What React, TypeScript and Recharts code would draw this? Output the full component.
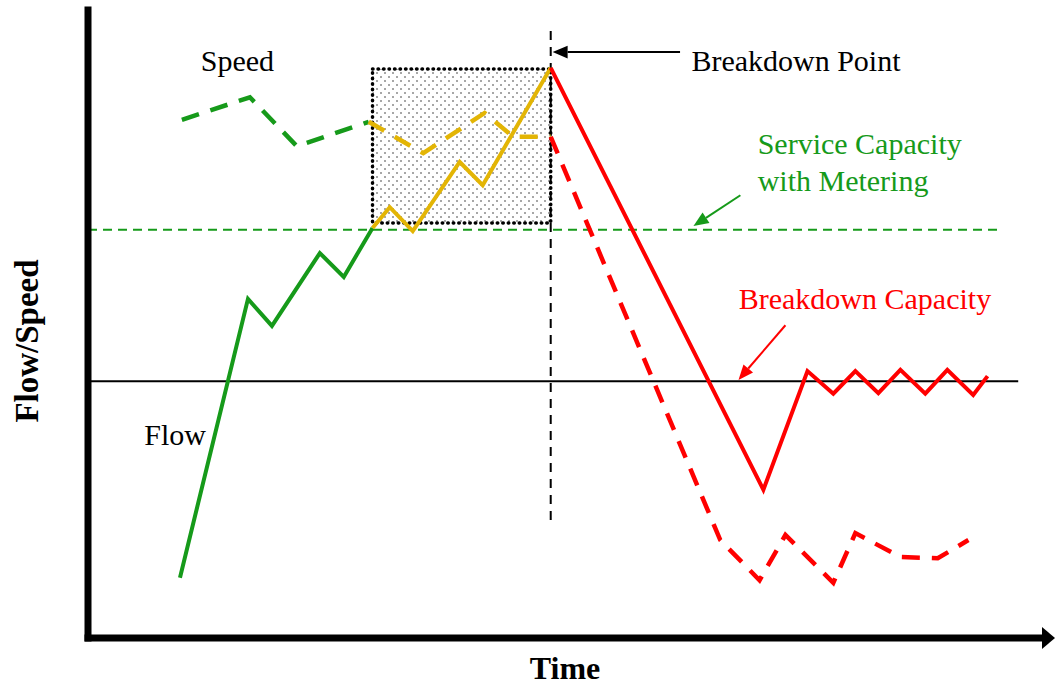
import React from "react";
import {
  ComposedChart,
  Line,
  XAxis,
  YAxis,
  ReferenceLine,
  ReferenceArea,
  ReferenceDot,
} from "recharts";

// time (x) and flow/speed (y) on a 0-100 scale
const flowT = [9.6, 16.7, 19.2, 24.2, 26.7, 29.7];
const flowV = [9.6, 54.0, 49.7, 61.3, 57.5, 65.3];
const meteredFlowT = [29.7, 31.5, 33.9, 38.8, 41.2, 48.3];
const meteredFlowV = [65.3, 68.6, 64.8, 75.8, 72.1, 90.8];
const breakdownFlowT = [48.3, 70.5, 75.1, 77.8, 80.1, 82.5, 84.8, 87.4, 89.7, 92.4, 93.9];
const breakdownFlowV = [90.8, 23.6, 42.5, 38.9, 42.5, 39.0, 42.7, 38.9, 42.7, 38.7, 41.7];

const speedT = [9.8, 16.9, 21.8, 29.3];
const speedV = [82.5, 86.1, 78.3, 82.2];
const meteredSpeedT = [29.3, 35.0, 41.4, 44.4, 48.3];
const meteredSpeedV = [82.2, 77.2, 83.6, 79.8, 79.8];
const breakdownSpeedT = [48.3, 66.0, 70.1, 72.8, 77.8, 80.1, 84.8, 88.7, 91.9];
const breakdownSpeedV = [79.8, 15.6, 9.2, 16.4, 8.8, 16.7, 12.9, 12.7, 15.6];

const serviceCapacity = 65.0;
const serviceCapacityEnd = 95.0;
const breakdownCapacity = 40.9;
const breakdownCapacityEnd = 97.1;
const breakdownTime = 48.3;
const breakdownMarkerSpan = [18.8, 97.1];
const meteringWindow = [29.7, 48.3];
const meteringBand = [66.1, 90.6];

const zip = (t: number[], v: number[]) => t.map((x, i) => ({ t: x, v: v[i] }));

const GREEN = "#169a1a";
const GOLD = "#e3b505";
const RED = "#ff0000";
const SERIF = "'Liberation Serif', 'Times New Roman', serif";

const arrowShape = (color: string, width: number, head: number) => (p: any) => {
  const { x1, y1, x2, y2 } = p;
  const a = Math.atan2(y2 - y1, x2 - x1);
  const bx = x2 - head * Math.cos(a);
  const by = y2 - head * Math.sin(a);
  const nx = -Math.sin(a) * head * 0.42;
  const ny = Math.cos(a) * head * 0.42;
  return (
    <g>
      <line x1={x1} y1={y1} x2={bx} y2={by} stroke={color} strokeWidth={width} />
      <polygon points={`${x2},${y2} ${bx + nx},${by + ny} ${bx - nx},${by - ny}`} fill={color} />
    </g>
  );
};

const axisHead = (p: any) => (
  <polygon points={`${p.cx - 4},${p.cy - 11} ${p.cx + 9},${p.cy} ${p.cx - 4},${p.cy + 11}`} fill="#000" />
);

const text = (value: string, fill: string, position: any = "center") => ({
  value,
  position,
  offset: 0,
  fill,
  fontSize: 30,
  fontFamily: SERIF,
});

export default function App() {
  return (
    <div style={{ position: "absolute", left: 0, top: 0, width: 1055, height: 685, background: "#fff" }}>
      <svg width={0} height={0} style={{ position: "absolute" }}>
        <defs>
          <pattern id="dots" width={8} height={8} patternUnits="userSpaceOnUse">
            <circle cx={1} cy={1} r={0.75} fill="#222" />
            <circle cx={5} cy={5} r={0.75} fill="#222" />
          </pattern>
        </defs>
      </svg>
      <ComposedChart width={1055} height={685} margin={{ top: 10, right: 9, bottom: 0, left: 0 }}>
        <XAxis
          type="number"
          dataKey="t"
          domain={[0, 100]}
          allowDataOverflow
          height={47}
          tick={false}
          tickLine={false}
          axisLine={{ stroke: "#000", strokeWidth: 7, strokeLinecap: "square" }}
          label={{
            content: () => (
              <text x={565} y={679} textAnchor="middle" fontSize={32} fontWeight="bold" fontFamily={SERIF} fill="#000">
                Time
              </text>
            ),
          }}
        />
        <YAxis
          type="number"
          domain={[0, 100]}
          allowDataOverflow
          width={88}
          tick={false}
          tickLine={false}
          axisLine={{ stroke: "#000", strokeWidth: 7, strokeLinecap: "square" }}
          label={{
            content: () => (
              <text
                x={27}
                y={341}
                transform="rotate(-90 27 341)"
                textAnchor="middle"
                dominantBaseline="central"
                fontSize={33}
                fontWeight="bold"
                fontFamily={SERIF}
                fill="#000"
              >
                Flow/Speed
              </text>
            ),
          }}
        />

        <ReferenceArea
          x1={meteringWindow[0]}
          x2={meteringWindow[1]}
          y1={meteringBand[0]}
          y2={meteringBand[1]}
          fill="url(#dots)"
          fillOpacity={1}
          stroke="#000"
          strokeWidth={3.5}
          strokeDasharray="0.5 5"
          strokeLinecap="round"
        />

        <ReferenceLine
          segment={[{ x: 0, y: serviceCapacity }, { x: serviceCapacityEnd, y: serviceCapacity }]}
          stroke={GREEN}
          strokeWidth={2}
          strokeDasharray="9 6"
        />
        <ReferenceLine
          segment={[{ x: 0, y: breakdownCapacity }, { x: breakdownCapacityEnd, y: breakdownCapacity }]}
          stroke="#000"
          strokeWidth={2}
        />
        <ReferenceLine
          segment={[{ x: breakdownTime, y: breakdownMarkerSpan[0] }, { x: breakdownTime, y: breakdownMarkerSpan[1] }]}
          stroke="#000"
          strokeWidth={2}
          strokeDasharray="9 7"
        />

        <Line data={zip(speedT, speedV)} dataKey="v" stroke={GREEN} strokeWidth={4.5} strokeDasharray="18 12" dot={false} isAnimationActive={false} />
        <Line data={zip(meteredSpeedT, meteredSpeedV)} dataKey="v" stroke={GOLD} strokeWidth={4.5} strokeDasharray="18 12" dot={false} isAnimationActive={false} />
        <Line data={zip(breakdownSpeedT, breakdownSpeedV)} dataKey="v" stroke={RED} strokeWidth={4.5} strokeDasharray="18 12" dot={false} isAnimationActive={false} />
        <Line data={zip(flowT, flowV)} dataKey="v" stroke={GREEN} strokeWidth={4} dot={false} isAnimationActive={false} />
        <Line data={zip(meteredFlowT, meteredFlowV)} dataKey="v" stroke={GOLD} strokeWidth={4} dot={false} isAnimationActive={false} />
        <Line data={zip(breakdownFlowT, breakdownFlowV)} dataKey="v" stroke={RED} strokeWidth={4} dot={false} isAnimationActive={false} />

        <ReferenceLine segment={[{ x: 61.8, y: 93.3 }, { x: 48.5, y: 93.3 }]} shape={arrowShape("#000", 2, 15)} />
        <ReferenceLine segment={[{ x: 68.1, y: 70.5 }, { x: 63.2, y: 65.6 }]} shape={arrowShape(GREEN, 2, 15)} />
        <ReferenceLine segment={[{ x: 72.8, y: 49.8 }, { x: 67.9, y: 41.1 }]} shape={arrowShape(RED, 2, 15)} />
        <ReferenceDot x={100} y={0} r={0} ifOverflow="visible" shape={axisHead} />

        <ReferenceDot x={15.6} y={92.0} r={0} label={text("Speed", "#000")} />
        <ReferenceDot x={73.9} y={92.0} r={0} label={text("Breakdown Point", "#000")} />
        <ReferenceDot x={69.9} y={78.8} r={0} label={text("Service Capacity", GREEN, "right")} />
        <ReferenceDot x={69.9} y={72.9} r={0} label={text("with Metering", GREEN, "right")} />
        <ReferenceDot x={81.1} y={54.1} r={0} label={text("Breakdown Capacity", RED)} />
        <ReferenceDot x={9.1} y={32.5} r={0} label={text("Flow", "#000")} />
      </ComposedChart>
    </div>
  );
}
